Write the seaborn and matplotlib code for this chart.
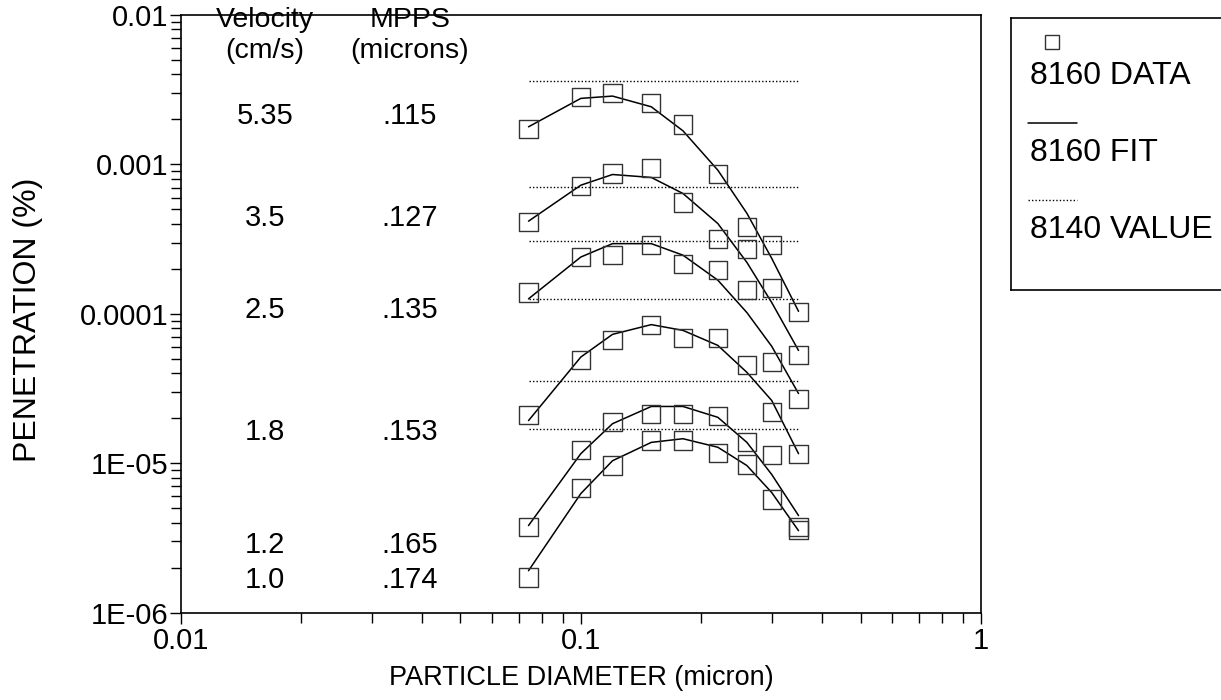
import numpy
import pandas
import seaborn as sns
import matplotlib.pyplot as plt
from matplotlib.ticker import LogLocator, FixedLocator, FixedFormatter, NullFormatter


# Particle diameters (micron), shared by every velocity series.
diameters = [0.074, 0.1, 0.12, 0.15, 0.18, 0.22, 0.26, 0.3, 0.35]

# Face velocities (cm/s) and most penetrating particle sizes (microns).
velocities = ['5.35', '3.5', '2.5', '1.8', '1.2', '1.0']
mpps = ['.115', '.127', '.135', '.153', '.165', '.174']

# 8160 measured penetration (%).
data_535 = [0.00172, 0.00284, 0.00299, 0.00259, 0.00185, 0.00086, 0.00038, 0.00029, 0.000103]
data_350 = [0.000412, 0.000715, 0.00087, 0.00094, 0.000556, 0.000319, 0.000273, 0.000148, 5.27e-05]
data_250 = [0.000139, 0.00024, 0.000247, 0.000288, 0.000217, 0.000196, 0.000144, 4.73e-05, 2.7e-05]
data_180 = [2.09e-05, 4.93e-05, 6.64e-05, 8.38e-05, 6.93e-05, 6.93e-05, 4.52e-05, 2.19e-05, 1.16e-05]
data_120 = [3.73e-06, 1.22e-05, 1.88e-05, 2.15e-05, 2.15e-05, 2.06e-05, 1.38e-05, 1.13e-05, 3.73e-06]
data_100 = [1.72e-06, 6.85e-06, 9.66e-06, 1.42e-05, 1.42e-05, 1.17e-05, 9.81e-06, 5.72e-06, 3.6e-06]

# 8160 fitted curves.
fit_535 = [0.001785, 0.002766, 0.002866, 0.00243, 0.001678, 0.000915, 0.000471, 0.000235, 0.000104]
fit_350 = [0.000417, 0.000726, 0.000856, 0.000818, 0.000639, 0.000402, 0.000221, 0.000119, 5.69e-05]
fit_250 = [0.000126, 0.00024, 0.000295, 0.000295, 0.000247, 0.000168, 0.000102, 6.06e-05, 2.93e-05]
fit_180 = [1.93e-05, 5.14e-05, 7.29e-05, 8.47e-05, 7.75e-05, 6.15e-05, 4.06e-05, 2.63e-05, 1.16e-05]
fit_120 = [3.83e-06, 1.16e-05, 1.84e-05, 2.4e-05, 2.4e-05, 2.03e-05, 1.38e-05, 8.41e-06, 4.47e-06]
fit_100 = [1.91e-06, 6.27e-06, 1.04e-05, 1.38e-05, 1.46e-05, 1.28e-05, 9.66e-06, 6.37e-06, 3.54e-06]

# 8140 penetration values, drawn as flat dotted lines.
value_8140 = [0.00361, 0.000707, 0.000306, 0.000126, 3.55e-05, 1.7e-05]


def build_frames():
    data_lists = [data_535, data_350, data_250, data_180, data_120, data_100]
    fit_lists = [fit_535, fit_350, fit_250, fit_180, fit_120, fit_100]

    data_rows, fit_rows, value_rows = [], [], []
    for velocity, data, fit, value in zip(velocities, data_lists, fit_lists, value_8140):
        for d, p, f in zip(diameters, data, fit):
            data_rows.append({'diameter': d, 'penetration': p, 'velocity': velocity})
            fit_rows.append({'diameter': d, 'penetration': f, 'velocity': velocity})
        # The 8140 value spans the measured diameter range.
        for d in [diameters[0], diameters[-1]]:
            value_rows.append({'diameter': d, 'penetration': value, 'velocity': velocity})

    return pandas.DataFrame(data_rows), pandas.DataFrame(fit_rows), pandas.DataFrame(value_rows)


def plot_penetration():
    data_df, fit_df, value_df = build_frames()

    sns.set_theme(
        style = 'ticks',
        rc = {
            'text.color': 'black',
            'axes.labelcolor': 'black',
            'axes.edgecolor': 'black',
            'xtick.color': 'black',
            'ytick.color': 'black'
        }
    )
    plt.rcParams['font.family'] = ['Liberation Sans', 'DejaVu Sans']

    fig = plt.figure(figsize = (12.21, 7), dpi = 100)
    ax = fig.add_axes([0.148, 0.1247, 0.6554, 0.8539])

    # Flat 8140 values.
    sns.lineplot(
        data = value_df, x = 'diameter', y = 'penetration', units = 'velocity',
        estimator = None, color = 'black', linewidth = 1.0, ax = ax,
        linestyle = (0, (1, 1.5))
    )

    # Fitted curves.
    sns.lineplot(
        data = fit_df, x = 'diameter', y = 'penetration', units = 'velocity',
        estimator = None, color = 'black', linewidth = 1.1, ax = ax
    )

    # Measured points as open squares.
    sns.scatterplot(
        data = data_df, x = 'diameter', y = 'penetration', marker = 's', s = 170,
        facecolor = 'none', edgecolor = '#333333', linewidth = 1.0, ax = ax, zorder = 3
    )

    ax.set_xscale('log')
    ax.set_yscale('log')
    ax.set_xlim(0.01, 1)
    ax.set_ylim(1e-6, 0.01)

    # Tick labels the way the original plotting package wrote them.
    ax.xaxis.set_major_locator(FixedLocator([0.01, 0.1, 1]))
    ax.xaxis.set_major_formatter(FixedFormatter(['0.01', '0.1', '1']))
    ax.yaxis.set_major_locator(FixedLocator([1e-6, 1e-5, 1e-4, 1e-3, 1e-2]))
    ax.yaxis.set_major_formatter(FixedFormatter(['1E-06', '1E-05', '0.0001', '0.001', '0.01']))
    ax.xaxis.set_minor_locator(LogLocator(base = 10, subs = numpy.arange(2, 10), numticks = 20))
    ax.yaxis.set_minor_locator(LogLocator(base = 10, subs = numpy.arange(2, 10), numticks = 20))
    ax.xaxis.set_minor_formatter(NullFormatter())
    ax.yaxis.set_minor_formatter(NullFormatter())
    ax.tick_params(which = 'major', length = 8, width = 1, labelsize = 21, pad = 2)
    ax.tick_params(which = 'minor', length = 7, width = 1)
    ax.tick_params(axis = 'y', pad = 1)
    for spine in ax.spines.values():
        spine.set_visible(True)
        spine.set_linewidth(1.2)

    ax.set_xlabel('PARTICLE DIAMETER (micron)', fontsize = 19.5)
    ax.set_ylabel('PENETRATION (%)', fontsize = 23)
    ax.xaxis.set_label_coords(0.5, -0.088)
    ax.yaxis.set_label_coords(-0.172, 0.49)

    # Velocity / MPPS table written inside the plot.
    ax.text(0.1053, 0.966, 'Velocity\n(cm/s)', transform = ax.transAxes, ha = 'center', va = 'center',
            fontsize = 20.5, linespacing = 1.25)
    ax.text(0.2865, 0.966, 'MPPS\n(microns)', transform = ax.transAxes, ha = 'center', va = 'center',
            fontsize = 20.5, linespacing = 1.25)
    row_y = [0.831, 0.660, 0.506, 0.302, 0.113, 0.055]
    for velocity, size, y in zip(velocities, mpps, row_y):
        ax.text(0.1053, y, velocity, transform = ax.transAxes, ha = 'center', va = 'center', fontsize = 21)
        ax.text(0.2865, y, size, transform = ax.transAxes, ha = 'center', va = 'center', fontsize = 21)

    # Legend box with each symbol on its own row above its label.
    lax = fig.add_axes([0.828, 0.586, 0.18, 0.3886])
    lax.set_xlim(0, 1)
    lax.set_ylim(0, 1)
    lax.set_xticks([])
    lax.set_yticks([])
    lax.set_facecolor('white')
    for spine in lax.spines.values():
        spine.set_linewidth(1.2)
    lax.plot([0.186], [0.912], marker = 's', markersize = 10, markerfacecolor = 'none',
             markeredgecolor = '#333333', markeredgewidth = 1.0, linestyle = 'none')
    lax.text(0.086, 0.787, '8160 DATA', fontsize = 23, va = 'center', ha = 'left')
    lax.plot([0.077, 0.30], [0.614, 0.614], color = 'black', linewidth = 1.1)
    lax.text(0.086, 0.504, '8160 FIT', fontsize = 23, va = 'center', ha = 'left')
    lax.plot([0.077, 0.30], [0.331, 0.331], color = 'black', linewidth = 1.0, linestyle = (0, (1, 1.5)))
    lax.text(0.086, 0.221, '8140 VALUE', fontsize = 23, va = 'center', ha = 'left')

    fig.savefig('out.png', dpi = 100)

    return


plot_penetration()
